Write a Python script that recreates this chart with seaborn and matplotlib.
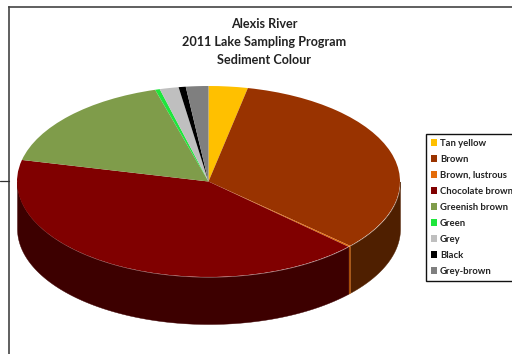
import numpy as np
import matplotlib
matplotlib.use("Agg")
import matplotlib.pyplot as plt
import seaborn as sns

# Sediment colour shares, percent of samples
categories = ["Tan yellow", "Brown", "Brown, lustrous", "Chocolate brown",
              "Greenish brown", "Green", "Grey", "Black", "Grey-brown"]
shares = [3.3, 33.5, 0.2, 41.7, 16.9, 0.4, 1.6, 0.6, 1.9]
top_colours = ["#FFC000", "#993300", "#E46C0A", "#800000", "#7F9C4A",
               "#1FE63C", "#BFBFBF", "#000000", "#7F7F7F"]
side_colours = ["#8A6800", "#4F1F00", "#B4560A", "#3D0000", "#44552A",
                "#108020", "#666666", "#000000", "#444444"]
title_lines = ["Alexis River", "2011 Lake Sampling Program", "Sediment Colour"]

W, H = 512, 354
sns.set_theme(style="white")
plt.rcParams["font.family"] = ["Lato", "DejaVu Sans"]
plt.rcParams["font.weight"] = "bold"

fig = plt.figure(figsize=(W / 100, H / 100), dpi=100, facecolor="white")

# Chart-area border: only the left and top edges fall inside the canvas
frame = fig.add_axes([9 / W, 0, 1 - 9 / W, 1 - 7 / H])
frame.set(xticks=[], yticks=[])
for side, spine in frame.spines.items():
    spine.set_visible(side in ("left", "top"))
    spine.set_color("#444444")
    spine.set_linewidth(1.2)

# Full-canvas axes scaled so the disc is a flattened ellipse
cx, cy, rx, ry, depth = 208.5, 181.5, 191.5, 95.5, 47
ax = fig.add_axes([0, 0, 1, 1])
ax.patch.set_alpha(0)

# Side wall of the disc, drawn along the front half of each wedge
edges = 90 - 360 * np.cumsum([0] + shares) / sum(shares)
for start, stop, colour in zip(edges[:-1], edges[1:], side_colours):
    lo = max(stop, -180)
    hi = min(start, 0)
    if hi <= lo:
        continue
    theta = np.radians(np.linspace(lo, hi, 120))
    ax.fill_between(np.cos(theta), np.sin(theta) - depth / ry, np.sin(theta),
                    color=colour, linewidth=0.3, zorder=1)

wedges, _ = ax.pie(shares, colors=top_colours, startangle=90, counterclock=False,
                   radius=1, wedgeprops={"linewidth": 0, "zorder": 2})
ax.set_aspect("auto")
ax.set_xlim(-cx / rx, (W - cx) / rx)
ax.set_ylim((cy - H) / ry, cy / ry)

# Short stub left of the chart border
ax.plot([-cx / rx, (9 - cx) / rx], [(cy - 181) / ry] * 2, color="#333333", lw=0.9)

for text, y in zip(title_lines, [24, 42, 60]):
    fig.text(264 / W, 1 - y / H, text, ha="center", va="center",
             fontsize=9.1, fontweight="bold", color="#222222")

legend = ax.legend(wedges, categories, loc="upper left",
                   bbox_to_anchor=(426 / W, 1 - 134 / H), bbox_transform=fig.transFigure,
                   fontsize=6.85, frameon=True, fancybox=False, framealpha=1,
                   edgecolor="#111111", borderpad=0.5, borderaxespad=0,
                   labelspacing=0.74, handlelength=0.65, handleheight=0.75,
                   handletextpad=0.3, labelcolor="#222222")
legend.get_frame().set_linewidth(1.0)
legend.set_zorder(5)

fig.savefig("out.png", dpi=100)
